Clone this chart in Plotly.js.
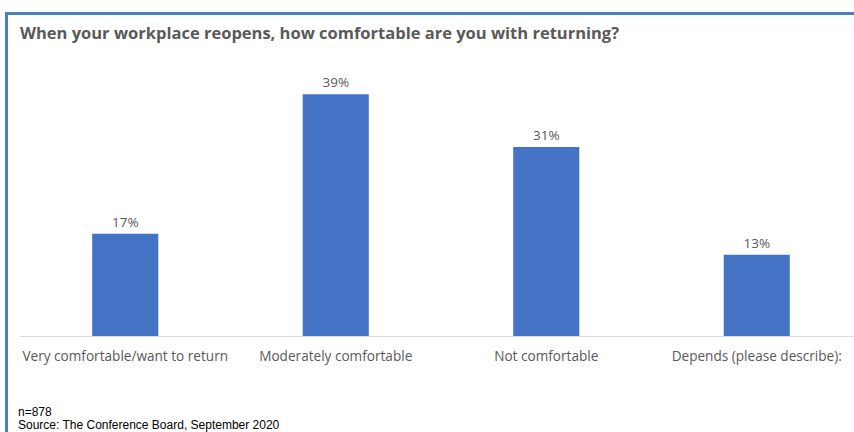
<!DOCTYPE html>
<html>
<head>
<meta charset="utf-8">
<script src="https://cdn.plot.ly/plotly-3.0.1.min.js"></script>
<style>
  html, body { margin: 0; padding: 0; background: #fff; }
  #wrap { position: relative; width: 854px; height: 432px; overflow: hidden; }
  #chart { width: 854px; height: 432px; }
  #frame { position: absolute; left: 5px; top: 12px; width: 860px; height: 440px;
           border-left: 3px solid #4A7EBF; border-top: 3px solid #4A7EBF; pointer-events: none; }
</style>
</head>
<body>
<div id="wrap">
  <div id="chart"></div>
  <div id="frame"></div>
</div>
<script>
const categories = [
  "Very comfortable/want to return",
  "Moderately comfortable",
  "Not comfortable",
  "Depends (please describe):"
];
const shares = [16.5, 39, 30.5, 13.1];
const titleText = "When your workplace reopens, how comfortable are you with returning?";
const sampleNote = "n=878";
const sourceNote = "Source: The Conference Board, September 2020";

const trace = {
  type: "bar",
  x: categories,
  y: shares,
  width: 0.314,
  marker: { color: "#4472C4" },
  texttemplate: "%{y:.0f}%",
  textposition: "outside",
  cliponaxis: false,
  textfont: { family: "Open Sans, sans-serif", size: 13.5, color: "#595959" },
  hoverinfo: "skip"
};

const layout = {
  width: 854, height: 432,
  margin: { l: 20, r: 0, t: 80, b: 96 },
  paper_bgcolor: "#ffffff",
  plot_bgcolor: "#ffffff",
  showlegend: false,
  title: {
    text: "<b>" + titleText + "</b>",
    font: { family: "Open Sans, sans-serif", size: 16.5, color: "#595959" },
    xref: "container", yref: "container",
    x: 20 / 854, xanchor: "left",
    y: 1 - 33 / 432, yanchor: "middle"
  },
  xaxis: {
    type: "category",
    range: [-0.5, 3.462],
    showline: true, linecolor: "#D9D9D9", linewidth: 1,
    showgrid: false, zeroline: false,
    ticks: "",
    ticklabelstandoff: 8,
    tickfont: { family: "Open Sans, sans-serif", size: 13.6, color: "#595959" }
  },
  yaxis: {
    range: [0, 41.3],
    visible: false,
    showgrid: false, zeroline: false
  },
  bargap: 0.2,
  annotations: [
    { text: sampleNote, xref: "paper", yref: "paper",
      x: -4 / 834, y: (336 - 412) / 256, xanchor: "left", yanchor: "middle",
      showarrow: false, font: { family: "Liberation Sans, Arial, sans-serif", size: 12, color: "#000" } },
    { text: sourceNote, xref: "paper", yref: "paper",
      x: -4 / 834, y: (336 - 425) / 256, xanchor: "left", yanchor: "middle",
      showarrow: false, font: { family: "Liberation Sans, Arial, sans-serif", size: 12, color: "#000" } }
  ]
};

Plotly.newPlot("chart", [trace], layout, { displayModeBar: false, staticPlot: true });
</script>
</body>
</html>
